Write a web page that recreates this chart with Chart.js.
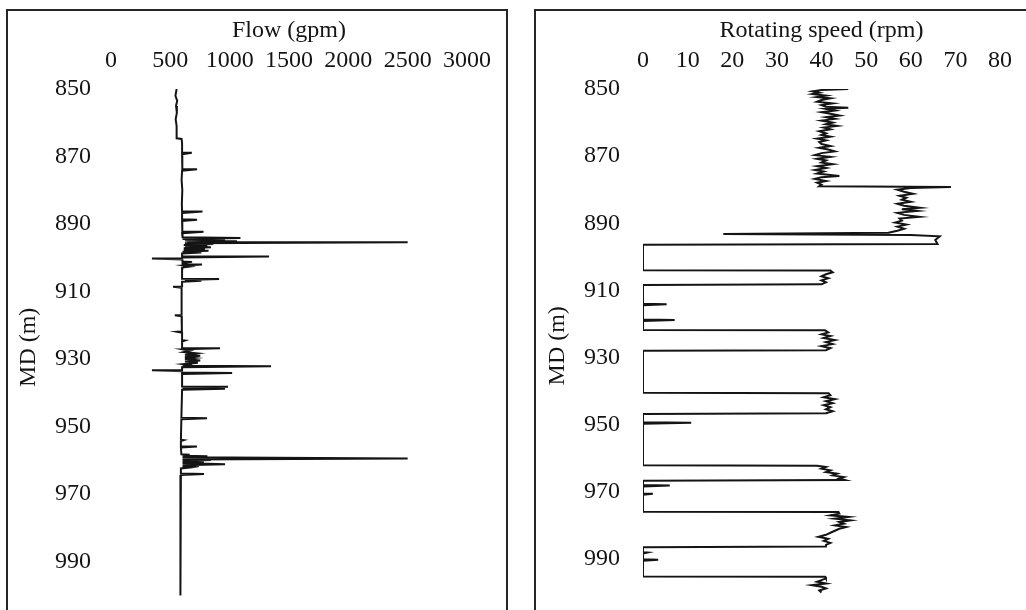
<!DOCTYPE html>
<html>
<head>
<meta charset="utf-8">
<title>MD log</title>
<script src="https://cdn.jsdelivr.net/npm/chart.js@4/dist/chart.umd.min.js"></script>
<style>
  body { margin: 0; background: #fff; width: 1026px; height: 610px; overflow: hidden; position: relative; }
  .frame { position: absolute; border: 2px solid #262626; box-sizing: border-box; }
  #flow_frame { left: 6px; top: 9px; width: 502px; height: 700px; }
  #rpm_frame { left: 534px; top: 9px; width: 600px; height: 700px; }
  canvas { position: absolute; top: 0; }
  #flow_canvas { left: 0; }
  #rpm_canvas { left: 520px; }
</style>
</head>
<body>
<div class="frame" id="flow_frame"></div>
<div class="frame" id="rpm_frame"></div>
<canvas id="flow_canvas" width="520" height="640"></canvas>
<canvas id="rpm_canvas" width="506" height="640"></canvas>
<script>
// depth axis (m), drawn downward
let depthTicks = [850, 870, 890, 910, 930, 950, 970, 990];
let flowTicks = [0, 500, 1000, 1500, 2000, 2500, 3000];
let rpmTicks = [0, 10, 20, 30, 40, 50, 60, 70, 80];

// flow rate log: depth (m) / flow (gpm)
let flowDepth = [
  850.0, 852.0, 853.5, 855.0, 857.0, 859.0, 861.0, 863.0, 864.6, 864.8,
  866.0, 868.8, 868.9, 869.3, 871.0, 873.7, 873.8, 874.2, 877.0, 880.0,
  884.0, 886.2, 886.3, 886.7, 888.6, 888.7, 889.1, 891.0, 892.2, 892.3,
  892.7, 893.9, 894.1, 894.4, 894.6, 894.9, 895.1, 895.3, 895.4, 895.7,
  895.9, 896.2, 896.4, 896.7, 896.9, 897.2, 897.4, 897.7, 897.9, 898.2,
  898.4, 898.7, 899.5, 899.6, 899.9, 900.1, 900.2, 900.5, 901.1, 901.2,
  901.5, 901.9, 902.0, 902.3, 902.6, 902.9, 906.2, 906.3, 906.6, 906.8,
  907.1, 908.5, 908.6, 908.9, 916.9, 917.0, 917.3, 921.8, 921.9, 922.2,
  924.4, 924.5, 924.8, 926.7, 926.8, 927.1, 927.5, 927.9, 928.3, 928.7,
  929.0, 929.4, 929.7, 930.0, 930.4, 930.7, 931.1, 931.5, 931.8, 932.0,
  932.1, 932.4, 933.2, 933.3, 933.6, 934.0, 934.1, 934.4, 938.1, 938.2,
  938.5, 938.8, 939.1, 947.4, 947.5, 947.8, 953.9, 954.0, 954.3, 955.8,
  955.9, 956.2, 958.2, 958.3, 958.6, 958.8, 959.1, 959.4, 959.7, 959.9,
  960.2, 960.5, 960.8, 961.1, 961.4, 961.6, 961.9, 962.1, 962.4, 963.9,
  964.0, 964.3, 970.0, 980.0, 990.0, 1000.0
];
let flowRate = [
  553, 543, 558, 548, 555, 545, 553, 551, 555, 595,
  599, 599, 681, 599, 603, 599, 725, 599, 595, 601,
  597, 599, 771, 599, 599, 725, 599, 603, 599, 780,
  599, 603, 1091, 603, 961, 623, 1061, 643, 2500, 623,
  862, 613, 812, 623, 842, 613, 792, 613, 822, 603,
  762, 599, 599, 1332, 599, 599, 345, 599, 603, 683,
  603, 603, 767, 613, 663, 599, 599, 911, 623, 762,
  599, 599, 523, 595, 595, 538, 595, 597, 556, 599,
  599, 623, 599, 599, 919, 603, 663, 613, 722, 623,
  752, 623, 702, 623, 752, 623, 732, 613, 683, 603,
  1349, 599, 599, 345, 599, 599, 1021, 599, 599, 986,
  603, 961, 599, 593, 809, 593, 589, 613, 589, 589,
  725, 589, 593, 663, 603, 812, 603, 2500, 603, 842,
  603, 782, 603, 961, 603, 742, 603, 663, 589, 589,
  784, 589, 587, 585, 583, 585
];

// rotating speed log: depth (m) / speed (rpm)
let rpmDepth = [
  850.0, 850.3, 850.7, 851.1, 851.5, 852.0, 852.4, 852.8, 853.3, 853.8,
  854.3, 854.8, 855.3, 855.6, 855.9, 856.4, 856.9, 857.4, 857.9, 858.4,
  858.9, 859.4, 860.0, 860.5, 861.0, 861.5, 862.0, 862.6, 863.2, 863.7,
  864.2, 864.8, 865.3, 865.8, 866.4, 867.0, 867.5, 868.0, 868.6, 869.1,
  869.7, 870.2, 870.8, 871.3, 871.9, 872.4, 873.0, 873.5, 874.1, 874.6,
  875.2, 875.9, 876.3, 876.8, 877.4, 877.9, 878.5, 879.0, 879.2, 879.5,
  880.0, 880.6, 881.2, 881.8, 882.4, 883.0, 883.6, 884.2, 884.8, 885.4,
  885.8, 886.3, 886.9, 887.5, 888.1, 888.6, 889.2, 889.8, 890.4, 891.0,
  891.6, 892.2, 892.8, 893.2, 893.5, 893.9, 895.0, 896.2, 896.4, 904.0,
  904.1, 904.6, 905.2, 905.8, 906.4, 907.0, 907.6, 908.2, 908.4, 914.0,
  914.1, 914.4, 918.7, 918.8, 919.1, 921.8, 921.9, 922.5, 923.1, 923.6,
  924.2, 924.8, 925.4, 926.0, 926.6, 927.2, 927.8, 928.0, 940.5, 940.6,
  941.2, 941.8, 942.4, 943.0, 943.6, 944.2, 944.8, 945.4, 946.0, 946.6,
  946.8, 949.3, 949.4, 949.7, 962.1, 962.2, 962.6, 963.1, 963.6, 964.1,
  964.6, 965.1, 965.6, 966.0, 966.5, 966.7, 968.0, 968.1, 968.4, 970.5,
  970.6, 970.9, 975.9, 976.0, 976.5, 977.0, 977.5, 978.0, 978.5, 979.0,
  979.5, 980.0, 980.5, 981.0, 981.6, 982.2, 982.8, 983.4, 984.0, 984.6,
  985.2, 985.8, 986.3, 986.5, 988.0, 988.1, 988.4, 990.1, 990.2, 990.5,
  995.2, 995.3, 995.8, 996.3, 996.8, 997.3, 997.8, 998.3, 998.8, 999.4,
  1000.0
];
let rpmSpeed = [
  46, 40, 38, 39.5, 38, 41, 39, 42, 40, 39,
  42.5, 40, 41, 46, 41, 43, 40, 42, 44, 41,
  43, 40, 42.5, 41, 43.5, 40.5, 42, 39.5, 41, 40,
  42, 39, 41, 39.5, 40, 42, 39.5, 41.5, 43, 40,
  38.5, 42, 39, 41, 40, 42.5, 39, 41, 38.5, 40.5,
  39, 44, 40, 38.5, 41, 39, 40, 39.5, 69, 60,
  57, 58.5, 60.5, 57.5, 59, 58, 60, 57, 58.5, 62,
  58, 61.5, 57, 58.5, 62, 57.5, 58, 56.5, 59, 57,
  58.5, 57, 55, 18, 60, 66.5, 65.5, 66, 0, 0,
  42, 42.5, 41, 40, 41.5, 40, 41, 40, 0, 0,
  5.3, 0, 0, 7.1, 0, 0, 40.8, 41.5, 40, 42,
  40.5, 43, 41, 42.5, 40, 42, 41, 0, 0, 41.6,
  42, 40.5, 43, 41, 42.5, 40.5, 42, 41, 42.5, 41,
  0, 0, 10.8, 0, 0, 39, 41, 40, 42, 41,
  43.5, 42.5, 45, 44, 45.3, 0, 0, 6, 0, 0,
  2.2, 0, 0, 43.8, 44, 42, 46, 43, 46.5, 44,
  45, 43, 45.5, 44, 43, 42, 41, 39.3, 41.5, 40.5,
  42, 41, 41, 0, 0, 1, 0, 0, 3.4, 0,
  0, 40.8, 41, 40, 39, 41, 37.8, 40, 41, 39.5,
  40
];

let serif = "'Liberation Serif', 'Times New Roman', serif";
let ink = '#141414';

function toPoints(depth, values){
  let pts = [];
  for(let i = 0; i < depth.length; i++){
    pts.push({x: values[i], y: depth[i]});
  }
  return pts;
}

// one depth track: value along the top, MD going down
function drawTrack(canvas_id, x_title, x_ticks, depth, values, opt){
  let ctx = document.getElementById(canvas_id).getContext('2d');
  return new Chart(ctx, {
    type: 'scatter',
    data: {
      datasets: [{
        data: toPoints(depth, values),
        showLine: true,
        borderColor: ink,
        borderWidth: 2,
        pointRadius: 0,
        tension: 0,
        fill: false
      }]
    },
    options: {
      responsive: false,
      animation: false,
      events: [],
      layout: { padding: { left: 0, top: 0, right: opt.rightPad, bottom: 31 } },
      plugins: { legend: { display: false }, tooltip: { enabled: false } },
      scales: {
        x: {
          type: 'linear',
          position: 'top',
          min: x_ticks[0],
          max: x_ticks[x_ticks.length - 1],
          afterBuildTicks: function(scale){ scale.ticks = x_ticks.map(v => ({value: v})); },
          afterFit: function(scale){ scale.height = 89; },
          grid: { display: false, drawTicks: false },
          border: { display: false },
          ticks: { color: ink, font: { family: serif, size: 24 }, padding: 14,
                   maxRotation: 0, autoSkip: false, callback: v => String(v) },
          title: { display: true, text: x_title, color: ink,
                   font: { family: serif, size: 24 }, padding: { top: 16, bottom: 0 } }
        },
        y: {
          type: 'linear',
          reverse: true,
          min: 850,
          max: 1003,
          afterBuildTicks: function(scale){ scale.ticks = depthTicks.map(v => ({value: v})); },
          afterFit: function(scale){ scale.width = opt.yWidth; },
          grid: { display: false, drawTicks: false },
          border: { display: false },
          ticks: { color: ink, font: { family: serif, size: 24 }, padding: opt.tickPad,
                   autoSkip: false, callback: v => String(v) },
          title: { display: true, text: 'MD (m)', color: ink,
                   font: { family: serif, size: 24 }, padding: { top: opt.titlePad, bottom: 0 } }
        }
      }
    }
  });
}

drawTrack('flow_canvas', 'Flow (gpm)', flowTicks, flowDepth, flowRate,
  { yWidth: 111, rightPad: 53, tickPad: 20, titlePad: 14 });
drawTrack('rpm_canvas', 'Rotating speed (rpm)', rpmTicks, rpmDepth, rpmSpeed,
  { yWidth: 123, rightPad: 24, tickPad: 23, titlePad: 23 });
</script>
</body>
</html>
